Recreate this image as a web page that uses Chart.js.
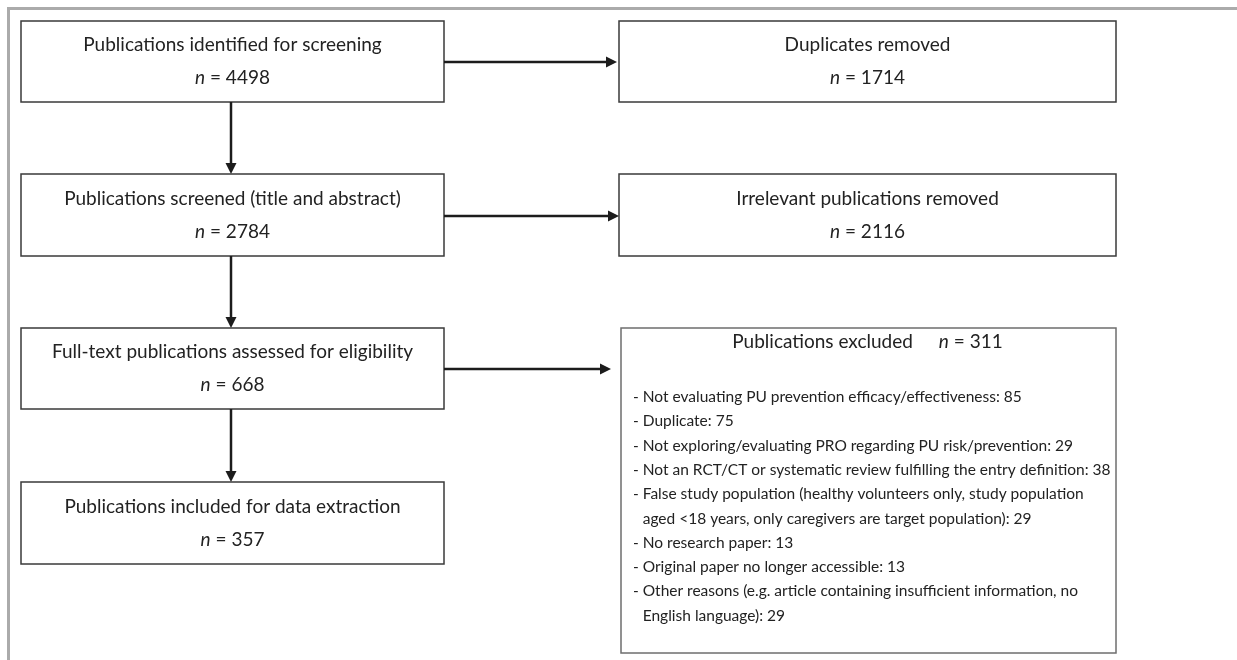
<!DOCTYPE html>
<html>
<head>
<meta charset="utf-8">
<script src="https://cdn.jsdelivr.net/npm/chart.js@4.4.1/dist/chart.umd.min.js"></script>
<style>
    html, body { margin: 0; padding: 0; background: #fff; }
    #wrap { width: 1237px; height: 660px; }
</style>
</head>
<body>
<div id="wrap"><canvas id="flow" width="1237" height="660"></canvas></div>
<script>
// --- Flow data ---
const stageLabels = [
    'Publications identified for screening',
    'Publications screened (title and abstract)',
    'Full-text publications assessed for eligibility',
    'Publications included for data extraction'
];
const stageCounts = [4498, 2784, 668, 357];

const removedLabels = ['Duplicates removed', 'Irrelevant publications removed', 'Publications excluded'];
const removedCounts = [1714, 2116, 311];

// '\n' marks where the line wraps in the figure
const exclusionReasons = [
    'Not evaluating PU prevention efficacy/effectiveness',
    'Duplicate',
    'Not exploring/evaluating PRO regarding PU risk/prevention',
    'Not an RCT/CT or systematic review fulfilling the entry definition',
    'False study population (healthy volunteers only, study population\naged <18 years, only caregivers are target population)',
    'No research paper',
    'Original paper no longer accessible',
    'Other reasons (e.g. article containing insufficient information, no\nEnglish language)'
];
const exclusionCounts = [85, 75, 29, 38, 29, 13, 13, 29];

// --- Layout (diagram units = picture pixels) ---
const leftCol = [21, 444];
const rightCol = [619, 1116];
const stageRows = [[21, 102], [174, 256], [328, 409], [482, 564]];
const removedRows = [[21, 102], [174, 256], [328, 653]];
const arrowY = [62, 216, 369];
const arrowEndX = [617, 619, 611];
const listTop = 397;
const listStep = 24.3;
const listLeft = 633;

const FONT = 'Lato, "Open Sans", sans-serif';
const TEXT = '#222';

const flowPlugin = {
    id: 'flow',
    afterDraw(chart) {
        const { ctx, scales: { x, y } } = chart;
        const px = v => x.getPixelForValue(v);
        const py = v => y.getPixelForValue(v);

        ctx.save();

        // outer frame (top and left edges only are visible)
        ctx.strokeStyle = '#ababab';
        ctx.lineWidth = 3;
        ctx.beginPath();
        ctx.moveTo(px(8.5), py(660));
        ctx.lineTo(px(8.5), py(8.5));
        ctx.lineTo(px(1237), py(8.5));
        ctx.stroke();

        function box(x0, x1, y0, y1, color) {
            ctx.strokeStyle = color;
            ctx.lineWidth = 1.5;
            ctx.strokeRect(px(x0), py(y0), px(x1) - px(x0), py(y1) - py(y0));
        }

        function arrow(x0, y0, x1, y1) {
            const a = Math.atan2(py(y1) - py(y0), px(x1) - px(x0));
            const len = 11, half = 5.5;
            const bx = px(x1) - Math.cos(a) * len, by = py(y1) - Math.sin(a) * len;
            ctx.strokeStyle = '#1c1c1c';
            ctx.fillStyle = '#1c1c1c';
            ctx.lineWidth = 2.5;
            ctx.beginPath();
            ctx.moveTo(px(x0), py(y0));
            ctx.lineTo(bx, by);
            ctx.stroke();
            ctx.beginPath();
            ctx.moveTo(px(x1), py(y1));
            ctx.lineTo(bx - Math.sin(a) * half, by + Math.cos(a) * half);
            ctx.lineTo(bx + Math.sin(a) * half, by - Math.cos(a) * half);
            ctx.closePath();
            ctx.fill();
        }

        // "n = 123" with italic n, centred on cx
        function nText(count, cx, cy, size, prefix, gap) {
            const main = size + 'px ' + FONT;
            const ital = 'italic ' + size + 'px ' + FONT;
            const rest = ' = ' + count;
            ctx.font = main;
            const wPre = prefix ? ctx.measureText(prefix).width + gap : 0;
            const wRest = ctx.measureText(rest).width;
            ctx.font = ital;
            const wN = ctx.measureText('n').width;
            let xx = cx - (wPre + wN + wRest) / 2;
            ctx.fillStyle = TEXT;
            ctx.textAlign = 'left';
            ctx.textBaseline = 'middle';
            if (prefix) {
                ctx.font = main;
                ctx.fillText(prefix, xx, cy);
                xx += wPre;
            }
            ctx.font = ital;
            ctx.fillText('n', xx, cy);
            xx += wN;
            ctx.font = main;
            ctx.fillText(rest, xx, cy);
        }

        function centred(text, cx, cy, size) {
            ctx.font = size + 'px ' + FONT;
            ctx.fillStyle = TEXT;
            ctx.textAlign = 'center';
            ctx.textBaseline = 'middle';
            ctx.fillText(text, cx, cy);
        }

        const titleSize = 19;
        const lcx = px((leftCol[0] + leftCol[1]) / 2);
        const rcx = px((rightCol[0] + rightCol[1]) / 2);

        // left column: stages
        stageLabels.forEach((label, i) => {
            const [t, b] = stageRows[i];
            box(leftCol[0], leftCol[1], t, b, '#3a3a3a');
            const mid = (t + b) / 2;
            centred(label, lcx, py(mid - 16.5), titleSize);
            nText(stageCounts[i], lcx, py(mid + 16.5), titleSize);
            if (i < stageLabels.length - 1) {
                arrow(231, b, 231, stageRows[i + 1][0]);
            }
        });

        // right column: removed
        removedLabels.forEach((label, i) => {
            const [t, b] = removedRows[i];
            const last = i === removedLabels.length - 1;
            box(rightCol[0] + (last ? 2 : 0), rightCol[1], t, b, last ? '#6e6e6e' : '#3a3a3a');
            arrow(leftCol[1], arrowY[i], arrowEndX[i], arrowY[i]);
            if (!last) {
                const mid = (t + b) / 2;
                centred(label, rcx, py(mid - 16.5), titleSize);
                nText(removedCounts[i], rcx, py(mid + 16.5), titleSize);
            } else {
                nText(removedCounts[i], rcx, py(t + 14), titleSize, label, 26);
            }
        });

        // exclusion reasons list
        ctx.font = '15.5px ' + FONT;
        ctx.fillStyle = TEXT;
        ctx.textAlign = 'left';
        ctx.textBaseline = 'middle';
        const indent = ctx.measureText('- ').width;
        let line = 0;
        exclusionReasons.forEach((reason, i) => {
            const parts = (reason + ': ' + exclusionCounts[i]).split('\n');
            parts.forEach((p, k) => {
                const xx = px(listLeft) + (k > 0 ? indent : 0);
                ctx.fillText((k === 0 ? '- ' : '') + p, xx, py(listTop + line * listStep));
                line++;
            });
        });

        ctx.restore();
    }
};

const chart = new Chart(document.getElementById('flow').getContext('2d'), {
    type: 'scatter',
    data: { datasets: [] },
    options: {
        responsive: false,
        animation: false,
        layout: { padding: 0 },
        plugins: { legend: { display: false }, tooltip: { enabled: false } },
        scales: {
            x: { type: 'linear', min: 0, max: 1237, display: false },
            y: { type: 'linear', min: 0, max: 660, reverse: true, display: false }
        }
    },
    plugins: [flowPlugin]
});
</script>
</body>
</html>
